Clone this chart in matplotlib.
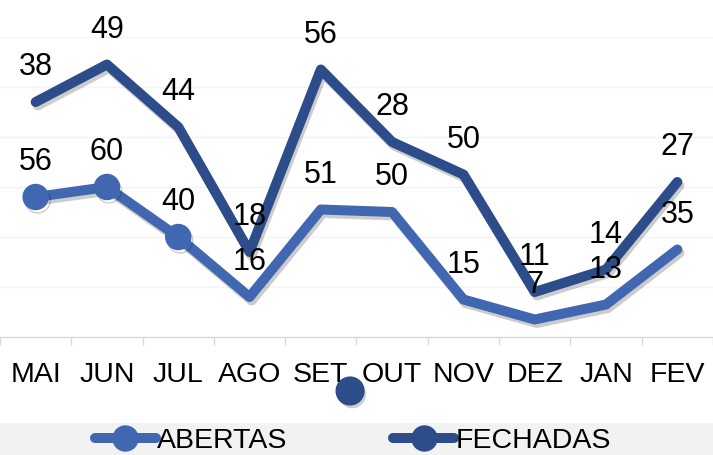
import matplotlib
matplotlib.use("Agg")
import matplotlib.pyplot as plt
import matplotlib.patheffects as pe
from matplotlib.lines import Line2D
from matplotlib.patches import Rectangle

categories = ["MAI", "JUN", "JUL", "AGO", "SET", "OUT", "NOV", "DEZ", "JAN", "FEV"]
abertas = [56, 60, 40, 16, 51, 50, 15, 7, 13, 35]
fechadas = [38, 49, 44, 18, 56, 28, 50, 11, 14, 27]
abertas_marker_idx = [0, 1, 2]
stray_x = [4.41]
stray_y = [-21.6]

c_ab = "#4167B1"
c_fe = "#2C4D8A"
font = "Liberation Sans"
plt.rcParams["font.family"] = [font, "DejaVu Sans"]

fig = plt.figure(figsize=(7.13, 4.55), dpi=100)
W, H = 713, 455
ax = fig.add_axes([0, 1 - 337 / H, 1, (337 - 37) / H])

x = list(range(len(categories)))
stacked = [a + f for a, f in zip(abertas, fechadas)]

shadow = [pe.SimpleLineShadow(offset=(1.5, -2.5), shadow_color="black", alpha=0.2), pe.Normal()]

ax.plot(x, abertas, color=c_ab, lw=7.2, solid_joinstyle="round", solid_capstyle="round",
        marker="o", markevery=abertas_marker_idx, ms=18, path_effects=shadow, zorder=3)
ax.plot(x, stacked, color=c_fe, lw=7.2, solid_joinstyle="round", solid_capstyle="round",
        path_effects=shadow, zorder=3)
ax.plot(stray_x, stray_y, "o", color=c_fe, ms=20, clip_on=False, zorder=3,
        path_effects=[pe.SimplePatchShadow(offset=(1.5, -2.5), alpha=0.2), pe.Normal()])

for xi, v, lab in zip(x, abertas, abertas):
    ax.annotate(str(lab), (xi, v), xytext=(0, 25), textcoords="offset points",
                ha="center", va="center", fontsize=22, color="black", zorder=5)
for xi, v, lab in zip(x, stacked, fechadas):
    ax.annotate(str(lab), (xi, v), xytext=(0, 25), textcoords="offset points",
                ha="center", va="center", fontsize=22, color="black", zorder=5)

step = 72.7
ax.set_xlim(-30.5 / step, (713 - 30.5) / step)
ax.set_ylim(0, 120)
ax.set_yticks(range(0, 121, 20))
ax.yaxis.grid(True, color="#f4f4f4", lw=1)
ax.set_axisbelow(True)
ax.tick_params(axis="y", left=False, labelleft=False)
for s in ["top", "right", "left"]:
    ax.spines[s].set_visible(False)
ax.spines["bottom"].set_color("#d9d9d9")
ax.spines["bottom"].set_linewidth(1)
ax.set_xticks(x)
ax.set_xticklabels(categories, fontsize=20.5)
ax.tick_params(axis="x", which="major", length=0, pad=18)
ax.set_xticks([i - 0.5 for i in range(len(categories) + 1)], minor=True)
ax.tick_params(axis="x", which="minor", length=6, color="#d9d9d9", width=1)

fig.patches.append(Rectangle((0, 0), 1, 1 - 423 / H, transform=fig.transFigure,
                             facecolor="#f2f2f2", edgecolor="none", zorder=0))
handles = [
    Line2D([], [], color=c_ab, lw=7.2, marker="o", ms=18, solid_capstyle="round"),
    Line2D([], [], color=c_fe, lw=7.2, marker="o", ms=18, solid_capstyle="round"),
]
fig.legend(handles, ["ABERTAS", "FECHADAS"], loc="center", bbox_to_anchor=(0.495, 1 - 441 / H),
           ncol=2, frameon=False, fontsize=20.5, handlelength=2.15, handletextpad=0.05,
           columnspacing=3.7, borderaxespad=0, borderpad=0)

fig.savefig("out.png", dpi=100)
